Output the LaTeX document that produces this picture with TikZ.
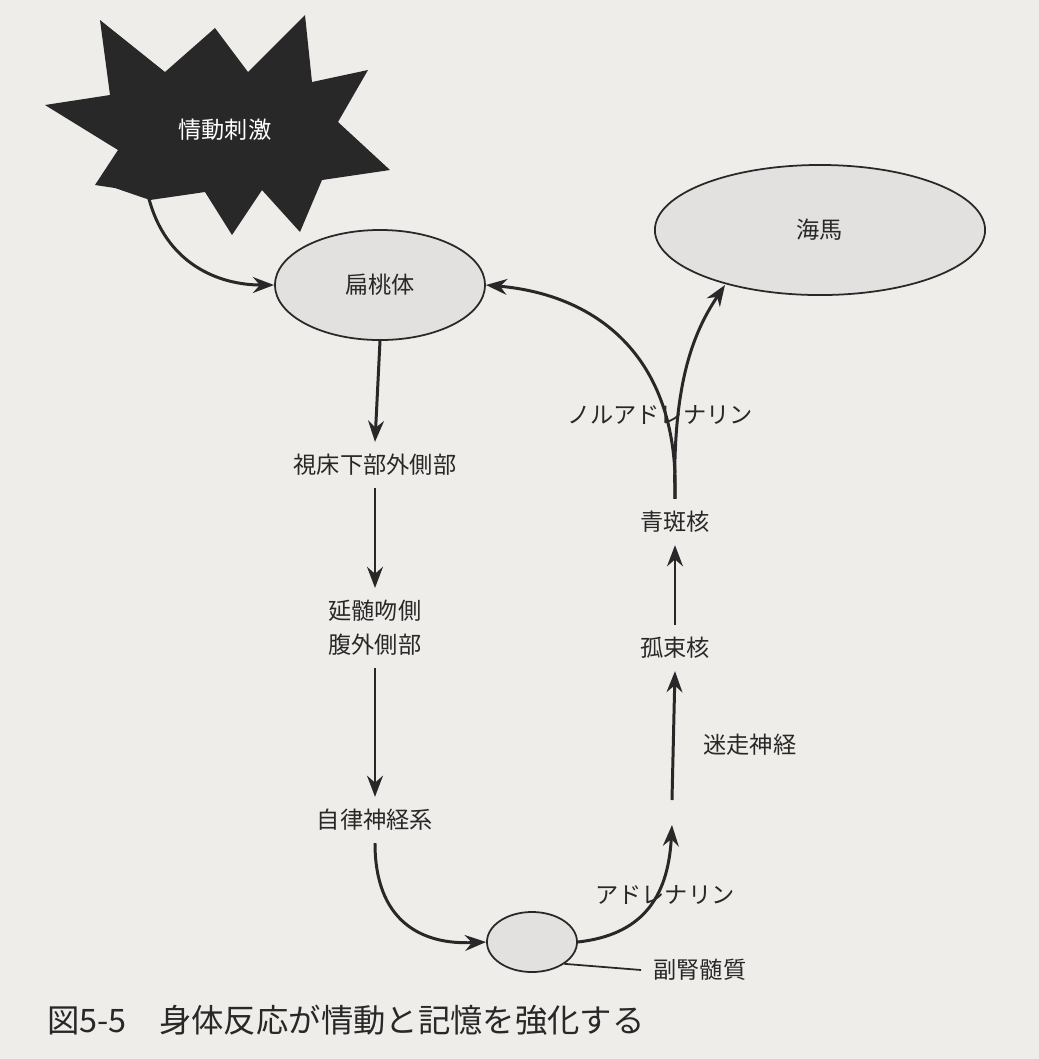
\documentclass[tikz,border=0pt]{standalone}
\usepackage{fontspec}
\setmainfont{Noto Sans CJK JP}
\usetikzlibrary{arrows.meta,shapes.geometric}
\definecolor{paper}{RGB}{239,237,233}
\definecolor{blob}{RGB}{226,225,224}
\definecolor{ink}{RGB}{40,40,40}
\tikzset{
  organ/.style={ellipse,draw=ink,fill=blob,line width=0.5pt,inner sep=0pt},
  lbl/.style={text=ink,font=\fontsize{6.6}{9.6}\selectfont,align=center},
  flow/.style={-{Stealth[length=6pt,width=4.5pt]},draw=ink,line width=0.85pt}
}
\begin{document}
\begin{tikzpicture}[x=0.01cm,y=-0.01cm]
\fill[paper] (0,0) rectangle (1039,1059);
\useasboundingbox (0,0) rectangle (1039,1059);
%burst
\fill[ink] (45,105) -- (110,95) -- (100,20) -- (165,72) -- (215,28) -- (248,72)
  -- (305,15) -- (312,82) -- (368,70) -- (338,122) -- (390,170) -- (322,180)
  -- (300,232) -- (262,190) -- (232,235) -- (205,192) -- (150,200) -- (115,188)
  -- (95,185) -- (118,150) -- cycle;
\node[lbl,text=white] (stim) at (225,130) {情動刺激};
\node[organ,minimum width=2.1cm,minimum height=1.1cm] (amyg) at (380,285) {};
\node[lbl] at (amyg) {扁桃体};
\node[organ,minimum width=3.3cm,minimum height=1.3cm] (hippo) at (820,230) {};
\node[lbl] at (hippo) {海馬};
\node[lbl] (lh) at (375,465) {視床下部外側部};
\node[lbl] (rvlm) at (375,628) {延髄吻側\\腹外側部};
\node[lbl] (ans) at (375,820) {自律神経系};
\node[organ,minimum width=0.9cm,minimum height=0.6cm] (adr) at (532,942) {};
\node[lbl] (med) at (700,970) {副腎髄質};
\node[lbl] (lc) at (675,522) {青斑核};
\node[lbl] (nts) at (675,648) {孤束核};
\node[lbl] (vag) at (750,745) {迷走神経};
\node[lbl] (adrn) at (665,895) {アドレナリン};
\node[lbl] (nad) at (660,415) {ノルアドレナリン};
\node[text=ink,font=\fontsize{9.2}{11}\selectfont,anchor=west] (cap) at (35,1020) {図5-5　身体反応が情動と記憶を強化する};
%arrows
\coordinate (s) at (148,195);
\coordinate (top) at (672,825);
\draw[flow] (s) .. controls (165,265) and (220,285) .. (amyg.west);
\draw[flow] (amyg.south) -- (lh.north);
\draw[flow] (lh.south) -- (rvlm.north);
\draw[flow] (rvlm.south) -- (ans.north);
\draw[flow] (ans.south) .. controls (375,920) and (420,945) .. (adr.west);
\draw[flow] (adr.east) .. controls (640,935) and (668,900) .. (top);
\draw[flow] (672,800) -- (nts.south);
\draw[flow] (nts.north) -- (lc.south);
\draw[flow] (lc.north) .. controls (680,360) and (600,295) .. (amyg.east);
\draw[flow] (lc.north) .. controls (672,380) and (695,330) .. (725,285);
\draw[ink,line width=0.5pt] (adr.south east) -- (med.west);
\end{tikzpicture}
\end{document}
